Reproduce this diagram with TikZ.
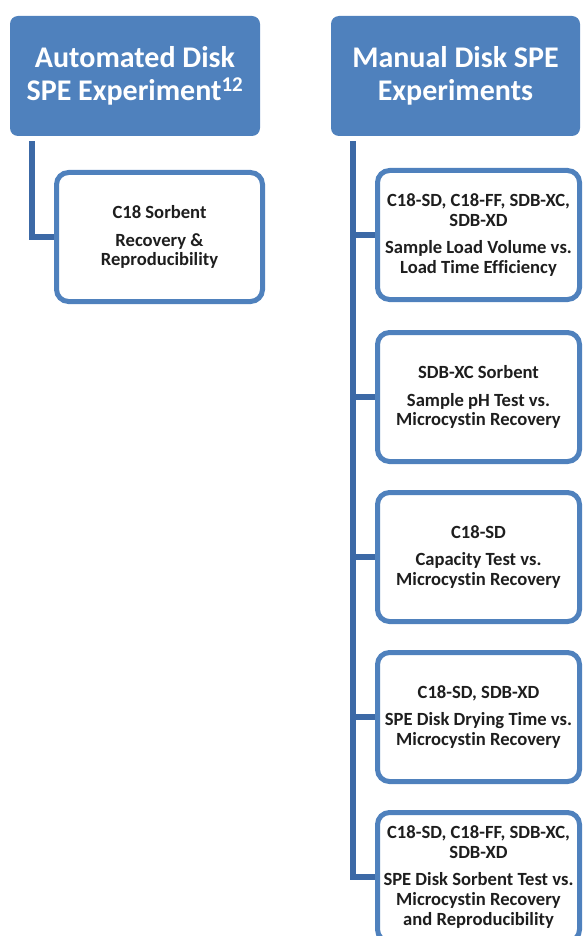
\documentclass[tikz,border=0pt]{standalone}
\usepackage{fontspec}
\setmainfont[Ligatures=NoCommon]{Carlito}
\definecolor{boxblue}{HTML}{4F81BD}
\definecolor{linkblue}{HTML}{3C69A6}
\definecolor{inktext}{HTML}{1E1E1E}

\tikzset{
  header/.style={rectangle, rounded corners=8pt, fill=boxblue, text=white,
    minimum width=250pt, minimum height=120pt, align=center,
    font=\bfseries\fontsize{30}{32.5}\selectfont},
  leaf/.style={rectangle, rounded corners=12pt, draw=boxblue, line width=5pt,
    fill=white, minimum width=202pt, minimum height=129pt, align=center,
    text=inktext, font=\bfseries\fontsize{18.6}{19.8}\selectfont},
  link/.style={draw=linkblue, line width=6pt},
}

\begin{document}
\begin{tikzpicture}[x=1pt,y=1pt]
        \useasboundingbox (0,0) rectangle (582,-936);

        % 标题
        \node[header] (auto) at (135,-76) {Automated Disk\\SPE Experiment\textsuperscript{12}};
        \node[header, minimum width=249pt] (manual) at (455.5,-76) {Manual Disk SPE\\Experiments};

        % 自动
        \node[leaf, minimum width=206pt] (c18) at (159.5,-237) {C18 Sorbent\\[8pt]Recovery \&\\Reproducibility};
        \draw[link] ([xshift=22.5pt,yshift=-5pt]auto.south west) |- (c18.west);

        % 手动
        \node[leaf] (r1) at (478.5,-235) {C18-SD, C18-FF, SDB-XC,\\SDB-XD\\[8pt]Sample Load Volume vs.\\Load Time Efficiency};
        \node[leaf] (r2) at (478.5,-397) {SDB-XC Sorbent\\[8pt]Sample pH Test vs.\\Microcystin Recovery};
        \node[leaf] (r3) at (478.5,-557) {C18-SD\\[8pt]Capacity Test vs.\\Microcystin Recovery};
        \node[leaf] (r4) at (478.5,-717) {C18-SD, SDB-XD\\[8pt]SPE Disk Drying Time vs.\\Microcystin Recovery};
        \node[leaf] (r5) at (478.5,-877) {C18-SD, C18-FF, SDB-XC,\\SDB-XD\\[8pt]SPE Disk Sorbent Test vs.\\Microcystin Recovery\\and Reproducibility};

        \coordinate (trunk) at ([xshift=22pt,yshift=-5pt]manual.south west);
        \draw[link] (trunk) |- (r5.west);
        \foreach \n in {r1,r2,r3,r4}
            \draw[link] (\n.west -| trunk) -- (\n.west);
\end{tikzpicture}
\end{document}
